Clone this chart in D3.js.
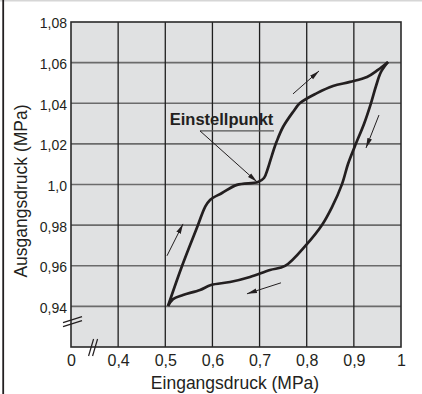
<!DOCTYPE html>
<html>
<head>
<meta charset="utf-8">
<script src="https://cdn.jsdelivr.net/npm/d3@7"></script>
<style>
  html, body { margin: 0; padding: 0; background: #fff; }
  svg { display: block; }
  text { font-family: "Liberation Sans", Arial, Helvetica, sans-serif; fill: #231f20; }
</style>
</head>
<body>
<div id="chart"></div>
<script>
// ---------------- data ----------------
const xTickValues = [0.3, 0.4, 0.5, 0.6, 0.7, 0.8, 0.9, 1.0];
const xTickLabels = ["0", "0,4", "0,5", "0,6", "0,7", "0,8", "0,9", "1"];
const yTickValues = [0.94, 0.96, 0.98, 1.00, 1.02, 1.04, 1.06, 1.08];
const yTickLabels = ["0,94", "0,96", "0,98", "1,0", "1,02", "1,04", "1,06", "1,08"];

// rising branch (Eingangsdruck increasing)
const riseX = [0.5058, 0.5355, 0.5694, 0.5843, 0.5949, 0.6203, 0.6521, 0.6967, 0.7094, 0.7179, 0.7264, 0.7360, 0.7497, 0.7709, 0.7858, 0.8218, 0.8558, 0.8918, 0.9279, 0.9512, 0.9725];
const riseY = [0.9402, 0.9599, 0.9801, 0.9889, 0.9924, 0.9958, 0.9998, 1.0012, 1.0032, 1.0081, 1.0145, 1.0210, 1.0283, 1.0357, 1.0401, 1.0450, 1.0485, 1.0505, 1.0529, 1.0564, 1.0603];

// falling branch (Eingangsdruck decreasing)
const fallX = [0.9725, 0.9576, 0.9470, 0.9364, 0.9215, 0.9024, 0.8876, 0.8749, 0.8536, 0.8324, 0.7985, 0.7540, 0.7221, 0.6797, 0.6373, 0.5970, 0.5736, 0.5376, 0.5164, 0.5058];
const fallY = [1.0603, 1.0554, 1.0485, 1.0401, 1.0298, 1.0190, 1.0101, 1.0002, 0.9889, 0.9801, 0.9702, 0.9599, 0.9579, 0.9545, 0.9520, 0.9505, 0.9481, 0.9456, 0.9436, 0.9402];

// direction arrows [x1, y1, x2, y2] in data units
const arrowX1 = [0.5036, 0.7709, 0.9533, 0.7454];
const arrowY1 = [0.9649, 1.0446, 1.0342, 0.9516];
const arrowX2 = [0.5376, 0.8261, 0.9258, 0.6733];
const arrowY2 = [0.9806, 1.0559, 1.0180, 0.9462];

const noteText = "Einstellpunkt";
const notePoint = [0.6945, 1.0013];
const xTitle = "Eingangsdruck (MPa)";
const yTitle = "Ausgangsdruck (MPa)";

// ---------------- drawing ----------------
const W = 422, H = 394;
const svg = d3.select("#chart").append("svg").attr("width", W).attr("height", H);

const x = d3.scaleLinear().domain([0.3, 1.0]).range([71, 401]);
const y = d3.scaleLinear().domain([0.92, 1.08]).range([347, 22]);

// outer frame pieces
svg.append("line").attr("x1", 0).attr("x2", W).attr("y1", 0.7).attr("y2", 0.7)
  .attr("stroke", "#d6d6d6").attr("stroke-width", 1.6);
svg.append("line").attr("x1", 3.2).attr("x2", 3.2).attr("y1", 0).attr("y2", H)
  .attr("stroke", "#231f20").attr("stroke-width", 1.8);

// plot background
svg.append("rect")
  .attr("x", x(0.3)).attr("y", y(1.08))
  .attr("width", x(1.0) - x(0.3)).attr("height", y(0.92) - y(1.08))
  .attr("fill", "#e0e1e2");

// horizontal grid (gray)
svg.append("g").selectAll("line").data(yTickValues.filter(v => v < 1.079))
  .join("line")
  .attr("x1", x(0.3)).attr("x2", x(1.0))
  .attr("y1", d => y(d)).attr("y2", d => y(d))
  .attr("stroke", "#6b6b6b").attr("stroke-width", 1.6);

// vertical grid (black)
svg.append("g").selectAll("line").data(xTickValues.filter(v => v > 0.31 && v < 0.99))
  .join("line")
  .attr("x1", d => x(d)).attr("x2", d => x(d))
  .attr("y1", y(1.08)).attr("y2", y(0.92))
  .attr("stroke", "#1e1e1e").attr("stroke-width", 1.3);

// plot frame
svg.append("rect")
  .attr("x", x(0.3)).attr("y", y(1.08))
  .attr("width", x(1.0) - x(0.3)).attr("height", y(0.92) - y(1.08))
  .attr("fill", "none").attr("stroke", "#2a2a2a").attr("stroke-width", 1.6);

// axes (labels only)
const xAxis = d3.axisBottom(x).tickValues(xTickValues)
  .tickFormat((d, i) => xTickLabels[i]).tickSize(0).tickPadding(0);
const gx = svg.append("g").attr("transform", `translate(0,${y(0.92)})`).call(xAxis);
gx.select(".domain").remove();
gx.selectAll("text").attr("y", 19).attr("dy", 0)
  .style("font-size", "16px").style("fill", "#231f20")
  .style("font-family", "'Liberation Sans', Arial, sans-serif");

const yAxis = d3.axisLeft(y).tickValues(yTickValues)
  .tickFormat((d, i) => yTickLabels[i]).tickSize(0).tickPadding(0);
const gy = svg.append("g").attr("transform", `translate(${x(0.3)},0)`).call(yAxis);
gy.select(".domain").remove();
gy.selectAll("text").attr("x", -4).attr("dy", "0.42em")
  .style("font-size", "14px").style("fill", "#231f20")
  .style("font-family", "'Liberation Sans', Arial, sans-serif");

// axis breaks
const brk = svg.append("g").attr("stroke", "#231f20").attr("stroke-width", 1.2).attr("fill", "none");
const yb = y(0.9325), xb = x(0.35);
[-2, 2].forEach(o => {
  brk.append("line").attr("x1", x(0.3) - 8).attr("y1", yb + o + 3)
    .attr("x2", x(0.3) + 11).attr("y2", yb + o - 3);
  brk.append("line").attr("x1", xb + o - 4).attr("y1", y(0.92) + 9)
    .attr("x2", xb + o + 1).attr("y2", y(0.92) - 8);
});

// curves
const line = d3.line().x(d => x(d[0])).y(d => y(d[1])).curve(d3.curveCatmullRom.alpha(0.5));
const rise = riseX.map((v, i) => [v, riseY[i]]);
const fall = fallX.map((v, i) => [v, fallY[i]]);
svg.append("path").attr("d", line(rise)).attr("fill", "none")
  .attr("stroke", "#231f20").attr("stroke-width", 2.7).attr("stroke-linejoin", "round");
svg.append("path").attr("d", line(fall)).attr("fill", "none")
  .attr("stroke", "#231f20").attr("stroke-width", 2.7).attr("stroke-linejoin", "round");

// arrow marker
svg.append("defs").append("marker")
  .attr("id", "ah").attr("viewBox", "0 0 10 6").attr("refX", 10).attr("refY", 3)
  .attr("markerWidth", 10).attr("markerHeight", 6).attr("markerUnits", "userSpaceOnUse")
  .attr("orient", "auto")
  .append("path").attr("d", "M0,0.6 L10,3 L0,5.4 Z").attr("fill", "#231f20");

arrowX1.forEach((v, i) => {
  svg.append("line")
    .attr("x1", x(v)).attr("y1", y(arrowY1[i]))
    .attr("x2", x(arrowX2[i])).attr("y2", y(arrowY2[i]))
    .attr("stroke", "#231f20").attr("stroke-width", 1)
    .attr("marker-end", "url(#ah)");
});

// annotation
const nx = x(0.5736), ny = y(1.0264);
svg.append("text").attr("x", x(0.5095)).attr("y", y(1.0293))
  .style("font-size", "16.5px").style("font-weight", "bold").text(noteText);
svg.append("line").attr("x1", nx).attr("y1", ny).attr("x2", x(0.7306)).attr("y2", ny)
  .attr("stroke", "#555").attr("stroke-width", 1.4);
svg.append("line").attr("x1", nx).attr("y1", ny)
  .attr("x2", x(notePoint[0])).attr("y2", y(notePoint[1]))
  .attr("stroke", "#231f20").attr("stroke-width", 1)
  .attr("marker-end", "url(#ah)");

// titles
svg.append("text").attr("x", 235).attr("y", 389).attr("text-anchor", "middle")
  .style("font-size", "17.5px").text(xTitle);
svg.append("text").attr("transform", "translate(27,191) rotate(-90)").attr("text-anchor", "middle")
  .style("font-size", "17.5px").text(yTitle);
</script>
</body>
</html>
